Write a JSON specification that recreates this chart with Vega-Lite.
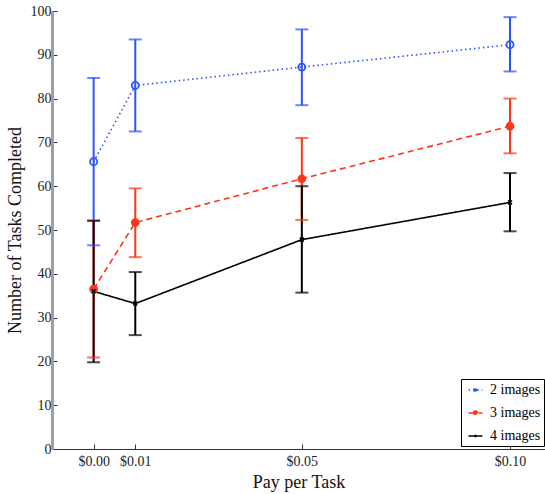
{
  "$schema": "https://vega.github.io/schema/vega-lite/v6.json",
  "width": 493,
  "height": 438,
  "autosize": {"type": "none"},
  "padding": {"left": 52, "top": 11, "right": 0, "bottom": 45},
  "background": "white",
  "config": {
    "view": {"stroke": null},
    "font": "Liberation Serif",
    "axis": {"grid": false, "labelFont": "Liberation Serif", "titleFont": "Liberation Serif", "labelFontSize": 14, "titleFontSize": 18, "titleFontWeight": "normal", "labelColor": "#222", "titleColor": "#111"}
  },
  "data": {"values": [
    {"series": "2 images", "pay": 0.00, "mean": 65.6, "lo": 46.5, "hi": 84.7},
    {"series": "2 images", "pay": 0.01, "mean": 83.0, "lo": 72.5, "hi": 93.5},
    {"series": "2 images", "pay": 0.05, "mean": 87.2, "lo": 78.5, "hi": 95.8},
    {"series": "2 images", "pay": 0.10, "mean": 92.3, "lo": 86.2, "hi": 98.6},
    {"series": "3 images", "pay": 0.00, "mean": 36.5, "lo": 20.9, "hi": 52.2},
    {"series": "3 images", "pay": 0.01, "mean": 51.7, "lo": 43.8, "hi": 59.5},
    {"series": "3 images", "pay": 0.05, "mean": 61.7, "lo": 52.3, "hi": 71.0},
    {"series": "3 images", "pay": 0.10, "mean": 73.7, "lo": 67.5, "hi": 80.0},
    {"series": "4 images", "pay": 0.00, "mean": 36.0, "lo": 19.8, "hi": 52.1},
    {"series": "4 images", "pay": 0.01, "mean": 33.2, "lo": 26.0, "hi": 40.4},
    {"series": "4 images", "pay": 0.05, "mean": 47.8, "lo": 35.7, "hi": 60.0},
    {"series": "4 images", "pay": 0.10, "mean": 56.3, "lo": 49.7, "hi": 63.0}
  ]},
  "encoding": {
    "x": {"field": "pay", "type": "quantitative",
      "scale": {"domain": [-0.01, 0.1084], "nice": false, "zero": false},
      "axis": {"title": "Pay per Task", "values": [0, 0.01, 0.05, 0.1], "format": "$.2f", "domainColor": "#333", "tickColor": "#333", "tickSize": -5, "labelPadding": 10, "titlePadding": 5}},
    "color": {"field": "series", "type": "nominal",
      "scale": {"domain": ["2 images", "3 images", "4 images"], "range": ["#2f52ff", "#ff3418", "#000000"]},
      "legend": {
        "title": null, "orient": "none", "legendX": 409, "legendY": 368,
        "strokeColor": "#000", "fillColor": "white", "padding": 3,
        "symbolSize": 196, "labelOffset": 10, "rowPadding": 8,
        "labelFont": "Liberation Serif", "labelFontSize": 14, "labelColor": "#000",
        "symbolStrokeWidth": 1.5,
        "encode": {"symbols": {"update": {
          "shape": [
            {"test": "datum.value === '2 images'", "value": "M-0.5,0L0.25,0M0.75,0L1.5,0M0.25,0A0.25,0.25 0 1,1 0.75,0A0.25,0.25 0 1,1 0.25,0"},
            {"test": "datum.value === '3 images'", "value": "M-0.5,0L1.5,0M0.22,0A0.28,0.28 0 1,1 0.78,0A0.28,0.28 0 1,1 0.22,0"},
            {"value": "M-0.5,0L1.5,0M0.37,-0.13L0.63,0.13M0.37,0.13L0.63,-0.13"}
          ],
          "fill": [
            {"test": "datum.value === '3 images'", "value": "#ff3418"},
            {"value": "transparent"}
          ],
          "fillOpacity": {"value": 1},
          "strokeDash": [
            {"test": "datum.value === '2 images'", "value": [1.5, 2]},
            {"value": [1, 0]}
          ]
        }}}
      }}
  },
  "layer": [
    {
      "mark": {"type": "rule", "strokeWidth": 2},
      "encoding": {
        "y": {"field": "lo", "type": "quantitative", "scale": {"domain": [0, 100], "nice": false},
          "axis": {"title": "Number of Tasks Completed", "values": [0,10,20,30,40,50,60,70,80,90,100], "domainColor": "#a0a0a0", "domainWidth": 3, "tickColor": "#333", "tickSize": -5, "labelPadding": 6, "titlePadding": 6}},
        "y2": {"field": "hi"}
      }
    },
    {
      "mark": {"type": "tick", "orient": "horizontal", "thickness": 2, "size": 13},
      "encoding": {"y": {"field": "lo", "type": "quantitative"}}
    },
    {
      "mark": {"type": "tick", "orient": "horizontal", "thickness": 2, "size": 13},
      "encoding": {"y": {"field": "hi", "type": "quantitative"}}
    },
    {
      "mark": {"type": "line", "strokeWidth": 1.6},
      "encoding": {
        "y": {"field": "mean", "type": "quantitative"},
        "strokeDash": {"field": "series", "type": "nominal",
          "scale": {"domain": ["2 images", "3 images", "4 images"], "range": [[1.5, 3], [6, 4], [1, 0]]},
          "legend": null}
      }
    },
    {
      "transform": [{"filter": "datum.series === '2 images'"}],
      "mark": {"type": "point", "shape": "circle", "filled": false, "strokeWidth": 1.8, "size": 50, "opacity": 1},
      "encoding": {"y": {"field": "mean", "type": "quantitative"}}
    },
    {
      "transform": [{"filter": "datum.series === '3 images'"}],
      "mark": {"type": "point", "shape": "circle", "filled": true, "size": 75, "opacity": 1},
      "encoding": {"y": {"field": "mean", "type": "quantitative"}}
    },
    {
      "transform": [{"filter": "datum.series === '4 images'"}],
      "mark": {"type": "point", "shape": "M-1,-1L1,1M-1,1L1,-1", "filled": false, "strokeWidth": 1.5, "size": 16, "opacity": 1},
      "encoding": {"y": {"field": "mean", "type": "quantitative"}}
    }
  ]
}
